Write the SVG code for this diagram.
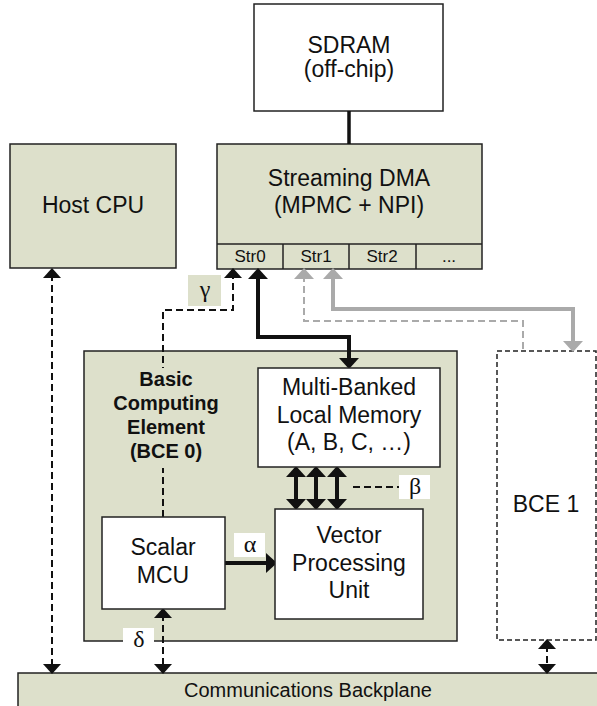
<svg xmlns="http://www.w3.org/2000/svg" width="597" height="706" viewBox="0 0 597 706">
<style>
.box{stroke:#222;stroke-width:1.5}
.g{fill:#dde0cb}
.w{fill:#fff}
.t{font-family:"Liberation Sans",Arial,sans-serif;font-size:23px;fill:#111;text-anchor:middle}
.s{font-size:17px}
.b{font-weight:bold;font-size:20px}
.gk{font-family:"Liberation Serif","Times New Roman",serif;font-size:24px;fill:#111;text-anchor:middle}
.dash{fill:none;stroke:#111;stroke-width:2;stroke-dasharray:7 4}
.bold{fill:none;stroke:#111;stroke-width:4}
.gray{fill:none;stroke:#aaa;stroke-width:4}
.grayd{fill:none;stroke:#aaa;stroke-width:2;stroke-dasharray:7 4}
</style>
<defs>
<marker id="ah" viewBox="0 0 10 18" refX="4" refY="9" markerWidth="10" markerHeight="18" markerUnits="userSpaceOnUse" orient="auto-start-reverse"><path d="M0,0 L10,9 L0,18 z" fill="#111"/></marker>
<marker id="ahb" viewBox="0 0 11 20" refX="4" refY="10" markerWidth="11" markerHeight="20" markerUnits="userSpaceOnUse" orient="auto-start-reverse"><path d="M0,0 L11,10 L0,20 z" fill="#111"/></marker>
<marker id="ahg" viewBox="0 0 11 20" refX="4" refY="10" markerWidth="11" markerHeight="20" markerUnits="userSpaceOnUse" orient="auto-start-reverse"><path d="M0,0 L11,10 L0,20 z" fill="#aaa"/></marker>
</defs>
<rect width="597" height="706" fill="#fff"/>

<g id="sdram">
<rect class="box w" x="254" y="4" width="189" height="107"/>
<text class="t" x="349" y="53">SDRAM</text>
<text class="t" x="349" y="77">(off-chip)</text>
</g>

<g id="dma">
<rect class="box g" x="217" y="144" width="265" height="125"/>
<line x1="217" y1="244" x2="482" y2="244" stroke="#222" stroke-width="1.5"/>
<line x1="283" y1="244" x2="283" y2="269" stroke="#222" stroke-width="1.5"/>
<line x1="349" y1="244" x2="349" y2="269" stroke="#222" stroke-width="1.5"/>
<line x1="416" y1="244" x2="416" y2="269" stroke="#222" stroke-width="1.5"/>
<text class="t" x="349" y="186">Streaming DMA</text>
<text class="t" x="349" y="213">(MPMC + NPI)</text>
<text class="t s" x="250" y="262">Str0</text>
<text class="t s" x="316" y="262">Str1</text>
<text class="t s" x="382" y="262">Str2</text>
<text class="t s" x="449" y="262">...</text>
</g>

<g id="host-cpu">
<rect class="box g" x="10" y="144" width="166" height="124"/>
<text class="t" x="93" y="213">Host CPU</text>
</g>

<g id="bce0">
<rect class="box g" x="84" y="351" width="373" height="290"/>
</g>

<g id="bce1">
<rect x="497" y="351" width="99" height="289" fill="#fff" stroke="#222" stroke-width="1.5" stroke-dasharray="5 3"/>
<text class="t" x="546" y="512">BCE 1</text>
</g>

<g id="backplane">
<rect class="box g" x="18" y="673" width="590" height="40"/>
<text class="t" x="308" y="697" style="font-size:20px">Communications Backplane</text>
</g>

<g id="connectors">
<line x1="349" y1="111" x2="349" y2="144" stroke="#111" stroke-width="3.5"/>
<path class="dash" d="M52,274 V668" marker-start="url(#ah)" marker-end="url(#ah)"/>
<path class="dash" d="M163,517 V310 H233 V274" marker-end="url(#ah)"/>
<path class="bold" d="M258,275 V337 H349 V362" marker-start="url(#ahb)" marker-end="url(#ahb)"/>
<path class="grayd" d="M304,275 V321 H523 V351" marker-start="url(#ahg)"/>
<path class="gray" d="M333,275 V309 H573 V345" marker-start="url(#ahg)" marker-end="url(#ahg)"/>
<path class="bold" d="M296,473 V503" marker-start="url(#ahb)" marker-end="url(#ahb)"/>
<path class="bold" d="M316,473 V503" marker-start="url(#ahb)" marker-end="url(#ahb)"/>
<path class="bold" d="M337,473 V503" marker-start="url(#ahb)" marker-end="url(#ahb)"/>
<path class="dash" d="M353,487 H399" stroke-width="1.5"/>
<path class="bold" d="M225,563 H270" marker-end="url(#ahb)"/>
<path class="dash" d="M163,614 V668" marker-start="url(#ah)" marker-end="url(#ah)"/>
<path class="dash" d="M547,645 V668" marker-start="url(#ah)" marker-end="url(#ah)"/>
</g>

<g id="bce0-label">
<rect x="130" y="368" width="70" height="100" fill="#dde0cb"/>
<text class="t b" x="166" y="386">Basic</text>
<text class="t b" x="166" y="410">Computing</text>
<text class="t b" x="166" y="434">Element</text>
<text class="t b" x="166" y="458">(BCE 0)</text>
</g>

<g id="memory">
<rect class="box w" x="258" y="368" width="182" height="99"/>
<text class="t" x="349" y="395">Multi-Banked</text>
<text class="t" x="349" y="423">Local Memory</text>
<text class="t" x="349" y="450">(A, B, C, …)</text>
</g>

<g id="vpu">
<rect class="box w" x="275" y="509" width="148" height="110"/>
<text class="t" x="349" y="543">Vector</text>
<text class="t" x="349" y="571">Processing</text>
<text class="t" x="349" y="598">Unit</text>
</g>

<g id="scalar-mcu">
<rect class="box w" x="102" y="517" width="123" height="92"/>
<text class="t" x="163" y="555">Scalar</text>
<text class="t" x="163" y="583">MCU</text>
</g>

<g id="labels">
<rect x="188" y="275" width="33" height="31" fill="#dde0cb"/>
<text class="gk" x="205" y="297">γ</text>
<rect x="234" y="533" width="31" height="24" fill="#fff"/>
<text class="gk" x="250" y="552">α</text>
<rect x="399" y="475" width="31" height="24" fill="#fff"/>
<text class="gk" x="415" y="494">β</text>
<rect x="123" y="628" width="31" height="22" fill="#fff"/>
<text class="gk" x="139" y="647">δ</text>
</g>
</svg>
